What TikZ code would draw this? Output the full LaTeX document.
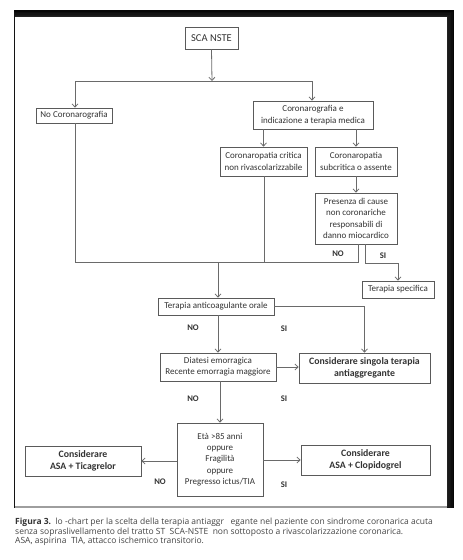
\documentclass[tikz,border=0pt]{standalone}
\usepackage{fontspec}
\setmainfont{Carlito}
\newfontfamily\capfont{Open Sans}
\usetikzlibrary{arrows.meta}
\definecolor{boxline}{HTML}{5A5A5A}
\definecolor{arrline}{HTML}{6A6A6A}
\definecolor{txt}{HTML}{333333}
\definecolor{captxt}{HTML}{444444}
\tikzset{
  box/.style={draw=boxline, line width=0.8pt, fill=white, text=txt, align=center, inner sep=1pt, font=\fontsize{9}{11.3}\selectfont},
  bbox/.style={box, font=\bfseries\fontsize{9.8}{12.3}\selectfont},
  conn/.style={draw=arrline, line width=0.8pt},
  arr/.style={conn, -{Straight Barb[length=3.2pt,width=6pt,line width=0.8pt]}},
  lab/.style={text=txt, font=\bfseries\fontsize{8.6}{10}\selectfont, inner sep=0pt}
}
\begin{document}
\begin{tikzpicture}[x=1pt,y=-1pt]
\useasboundingbox (0,0) rectangle (463,560);
\fill[white] (0,0) rectangle (463,560);
% panel shadow
\foreach \o/\c in {7/97.5,5.5/95,4/92.5,2.5/90,1/87}{
  \fill[black!\c!white] (15-\o*0.15,17-\o) rectangle (447+\o,507+\o*0.15);
}
\fill[white] (15,17) rectangle (447,507);
\draw[black!38, line width=1.6pt] (15,507) -- (447,507);

% nodes
\node[box, minimum width=53pt, minimum height=22pt, font=\fontsize{10.5}{13}\selectfont] (sca) at (211.5,38) {SCA NSTE};
\node[box, minimum width=76pt, minimum height=15pt] (nocor) at (74,115.5) {No Coronarografia};
\node[box, minimum width=120pt, minimum height=28pt] (core) at (313,115) {Coronarografia e\\indicazione a terapia medica};
\node[box, minimum width=87pt, minimum height=29pt] (crit) at (263.5,161.5) {Coronaropatia critica\\non rivascolarizzabile};
\node[box, minimum width=82pt, minimum height=29pt] (subc) at (356,161.5) {Coronaropatia\\subcritica o assente};
\node[box, minimum width=82pt, minimum height=51pt] (pres) at (356,218.5) {Presenza di cause\\non coronariche\\responsabili di\\danno miocardico};
\node[box, minimum width=72pt, minimum height=17pt] (tspec) at (398,289.5) {Terapia specifica};
\node[box, minimum width=116pt, minimum height=17pt] (tao) at (216,306.5) {Terapia anticoagulante orale};
\node[bbox, minimum width=131pt, minimum height=30pt] (single) at (364.5,368) {Considerare singola terapia\\antiaggregante};
\node[box, minimum width=116pt, minimum height=28pt] (diat) at (218,367) {Diatesi emorragica\\Recente emorragia maggiore};
\node[box, minimum width=86pt, minimum height=73pt] (eta) at (220,459.5) {Età >85 anni\\oppure\\Fragilità\\oppure\\Pregresso ictus/TIA};
\node[bbox, minimum width=116pt, minimum height=30pt] (tica) at (83,461) {Considerare\\ASA + Ticagrelor};
\node[bbox, minimum width=129pt, minimum height=30pt] (clop) at (365.5,460) {Considerare\\ASA + Clopidogrel};

% junction coordinates
\coordinate (j1) at (212,81);
\coordinate (jl) at (75,81);
\coordinate (jr) at (312,81);
\coordinate (m1) at (75,262);
\coordinate (m2) at (358,262);
\coordinate (mc) at (264,262);
\coordinate (mt) at (218,262);

% connectors
\draw[arr] (sca.south) -- (j1);
\draw[conn] (jl) -- (jr);
\draw[arr] (jl) -- (jl |- nocor.north);
\draw[arr] (jr) -- (jr |- core.north);
\draw[arr] (core.south -| crit.north) -- (crit.north);
\draw[arr] (core.south -| subc.north) -- (subc.north);
\draw[arr] (subc.south) -- (pres.south |- pres.north);
\draw[conn] (nocor.south -| m1) -- (m1) -- (m2) -- (pres.south -| m2);
\draw[conn] (crit.south -| mc) -- (mc);
\draw[arr] (mt) -- (tao.north -| mt);
\draw[arr] ([xshift=9pt]pres.south) -- ++(0,19) -| (tspec.north);
\draw[arr] (tao.east) -| (single.north);
\draw[arr] (tao.south -| diat.north) -- (diat.north);
\draw[arr] (diat.east) -- (single.west |- diat.east);
\draw[arr] (diat.south -| eta.north) -- (eta.north);
\draw[arr] (eta.west |- tica.east) -- (tica.east);
\draw[arr] (eta.east |- clop.west) -- (clop.west);

% labels
\node[lab] (l1) at (338,254) {NO};
\node[lab] (l2) at (383,256) {SI};
\node[lab] (l3) at (193,328) {NO};
\node[lab] (l4) at (284,329) {SI};
\node[lab] (l5) at (193,399) {NO};
\node[lab] (l6) at (284,399) {SI};
\node[lab] (l7) at (160,482) {NO};
\node[lab] (l8) at (284,485) {SI};

% caption
\tikzset{captext/.style={anchor=west, inner sep=0pt, text=captxt, font=\capfont\fontsize{8.5}{9}\selectfont}}
\node[captext] (cap1) at (15,522.5) {{\bfseries\color{txt}Figura 3.}\ \ lo -chart per la scelta della terapia antiaggr\ \ \ egante nel paziente con sindrome coronarica acuta};
\node[captext] (cap2) at (15,532) {senza sopraslivellamento del tratto ST\ \ SCA-NSTE\ \ non sottoposto a rivascolarizzazione coronarica.};
\node[captext] (cap3) at (15,541.5) {ASA, aspirina\ \ TIA, attacco ischemico transitorio.};
\end{tikzpicture}
\end{document}
